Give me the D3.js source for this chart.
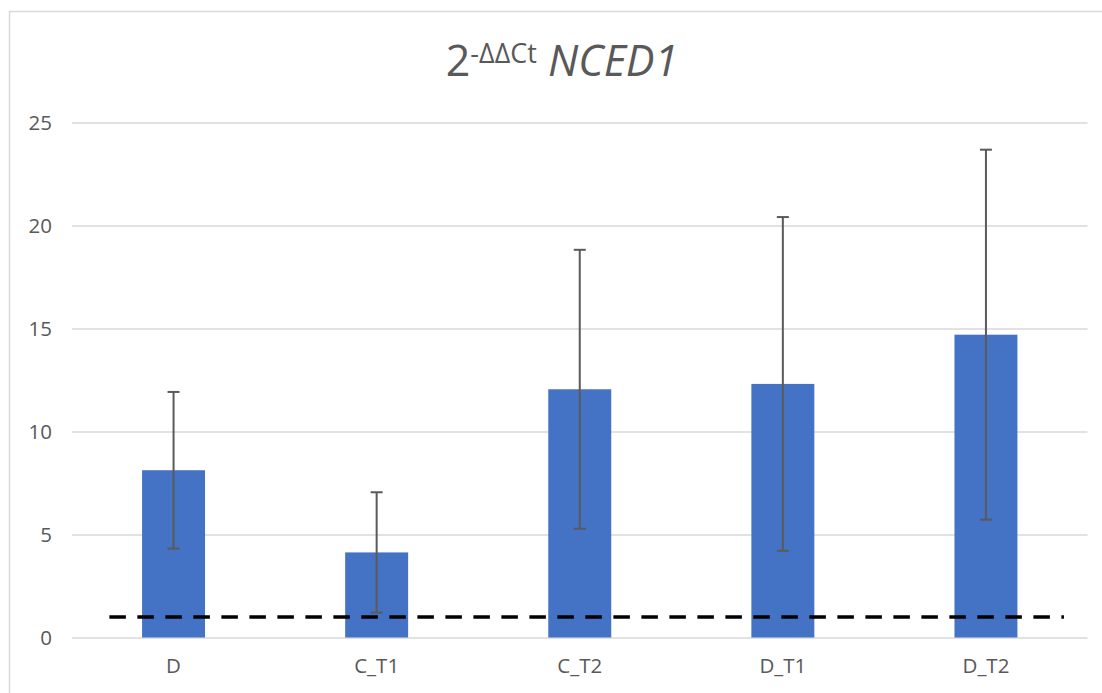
<!DOCTYPE html>
<html>
<head>
<meta charset="utf-8">
<script src="https://cdn.jsdelivr.net/npm/d3@7"></script>
<style>
  body { margin: 0; background: #ffffff; }
  svg { display: block; }
  text { font-family: "Open Sans", "Noto Sans", sans-serif; fill: #595959; }
</style>
</head>
<body>
<svg id="chart" width="1102" height="693"></svg>
<script>
// Relative expression (2^-ΔΔCt) of NCED1 per treatment, with error bars
const categories = ["D", "C_T1", "C_T2", "D_T1", "D_T2"];
const means = [8.12, 4.13, 12.05, 12.31, 14.70];
const errors = [3.80, 2.92, 6.77, 8.10, 8.98];
const yTicks = [0, 5, 10, 15, 20, 25];
const referenceLevel = 1;

const width = 1102, height = 693;
const plot = { left: 72, right: 1087.5, top: 122.5, bottom: 637.5 };

const svg = d3.select("#chart");

// chart frame
svg.append("rect")
  .attr("x", 9.5).attr("y", 11.5)
  .attr("width", width + 20).attr("height", height + 20)
  .attr("fill", "#ffffff")
  .attr("stroke", "#d9d9d9").attr("stroke-width", 1.5);

const x = d3.scaleBand()
  .domain(categories)
  .range([plot.left, plot.right])
  .paddingInner(0.69)
  .paddingOuter(0.345);

const y = d3.scaleLinear()
  .domain([0, 25])
  .range([plot.bottom, plot.top]);

// horizontal gridlines + y labels
const yAxis = d3.axisLeft(y)
  .tickValues(yTicks)
  .tickSize(-(plot.right - plot.left))
  .tickPadding(20)
  .tickFormat(d3.format("d"));

const gy = svg.append("g")
  .attr("transform", `translate(${plot.left},0)`)
  .call(yAxis);
gy.select(".domain").remove();
gy.selectAll(".tick line").attr("stroke", "#d9d9d9").attr("stroke-width", 1.5);
gy.selectAll(".tick text")
  .attr("fill", "#595959")
  .style("font-size", "20.5px");

// category labels
const xAxis = d3.axisBottom(x).tickSize(0).tickPadding(21);
const gx = svg.append("g")
  .attr("transform", `translate(0,${plot.bottom})`)
  .call(xAxis);
gx.select(".domain").remove();
gx.selectAll(".tick text")
  .attr("fill", "#595959")
  .style("font-size", "20.5px");

const rows = categories.map((c, i) => ({ cat: c, mean: means[i], err: errors[i] }));

// bars
svg.append("g").selectAll("rect")
  .data(rows)
  .join("rect")
  .attr("x", d => x(d.cat))
  .attr("y", d => y(d.mean))
  .attr("width", x.bandwidth())
  .attr("height", d => y(0) - y(d.mean))
  .attr("fill", "#4472c4");

// error bars
const eb = svg.append("g")
  .attr("stroke", "#5a5a5a")
  .attr("stroke-width", 2)
  .attr("fill", "none");
const cx = d => x(d.cat) + x.bandwidth() / 2;
const capHalf = 6;
eb.selectAll("line.stem").data(rows).join("line")
  .attr("class", "stem")
  .attr("x1", cx).attr("x2", cx)
  .attr("y1", d => y(d.mean + d.err))
  .attr("y2", d => y(d.mean - d.err));
eb.selectAll("line.capTop").data(rows).join("line")
  .attr("class", "capTop")
  .attr("x1", d => cx(d) - capHalf).attr("x2", d => cx(d) + capHalf)
  .attr("y1", d => y(d.mean + d.err)).attr("y2", d => y(d.mean + d.err));
eb.selectAll("line.capBot").data(rows).join("line")
  .attr("class", "capBot")
  .attr("x1", d => cx(d) - capHalf).attr("x2", d => cx(d) + capHalf)
  .attr("y1", d => y(d.mean - d.err)).attr("y2", d => y(d.mean - d.err));

// dashed reference line at 2^-ΔΔCt = 1
const step = x.step();
svg.append("line")
  .attr("x1", plot.left + 0.184 * step)
  .attr("x2", plot.right - 0.116 * step)
  .attr("y1", y(referenceLevel))
  .attr("y2", y(referenceLevel))
  .attr("stroke", "#000000")
  .attr("stroke-width", 3.5)
  .attr("stroke-dasharray", "16.5,11.5");

// title
const title = svg.append("text")
  .attr("x", 562)
  .attr("y", 76)
  .attr("text-anchor", "middle");
title.append("tspan").style("font-size", "43px").text("2");
title.append("tspan").style("font-size", "27px").attr("dy", -13).text("-ΔΔCt");
title.append("tspan").style("font-size", "43px").attr("dy", 13).text("\u00a0");
title.append("tspan").style("font-size", "43px").style("font-style", "italic").text("NCED1");
</script>
</body>
</html>
